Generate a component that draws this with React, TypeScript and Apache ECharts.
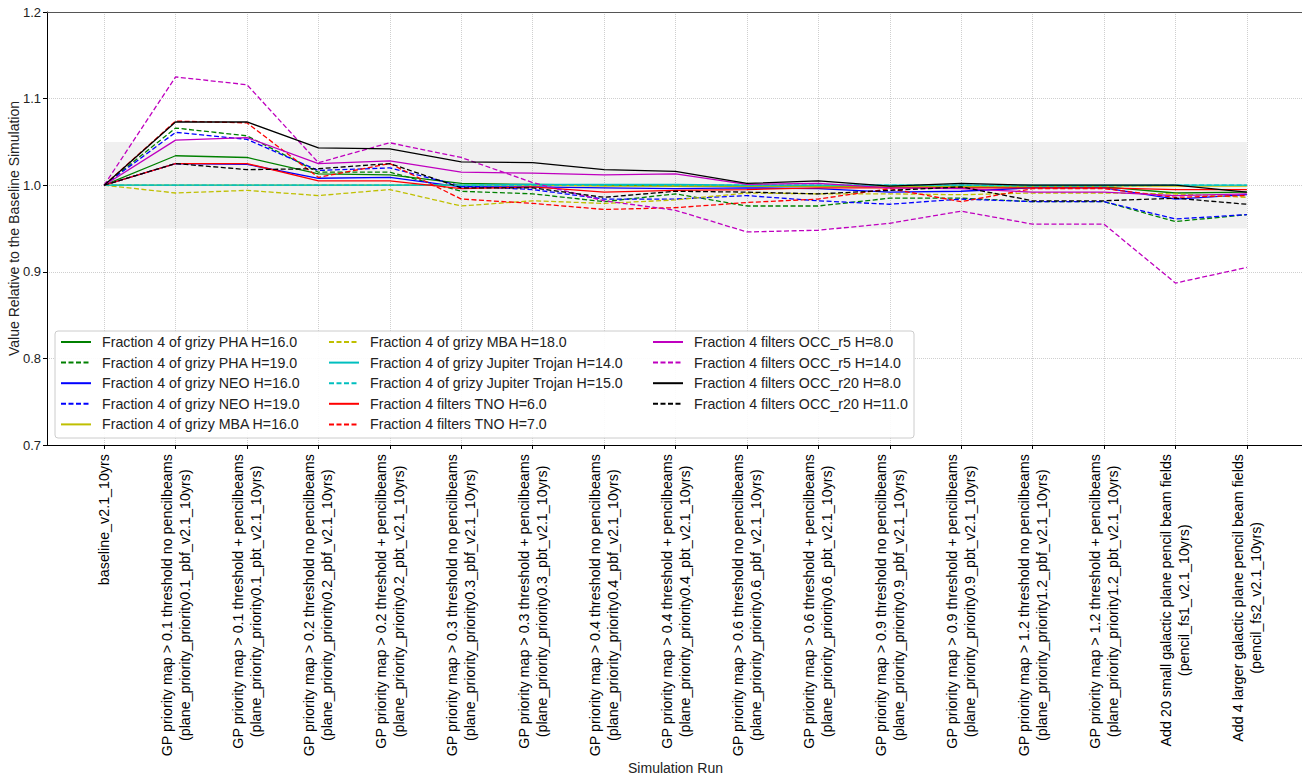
import React, { useEffect, useRef } from "react";
import * as echarts from "echarts";

const categories = [
  "baseline_v2.1_10yrs",
  "GP priority map > 0.1 threshold no pencilbeams\n(plane_priority_priority0.1_pbf_v2.1_10yrs)",
  "GP priority map > 0.1 threshold + pencilbeams\n(plane_priority_priority0.1_pbt_v2.1_10yrs)",
  "GP priority map > 0.2 threshold no pencilbeams\n(plane_priority_priority0.2_pbf_v2.1_10yrs)",
  "GP priority map > 0.2 threshold + pencilbeams\n(plane_priority_priority0.2_pbt_v2.1_10yrs)",
  "GP priority map > 0.3 threshold no pencilbeams\n(plane_priority_priority0.3_pbf_v2.1_10yrs)",
  "GP priority map > 0.3 threshold + pencilbeams\n(plane_priority_priority0.3_pbt_v2.1_10yrs)",
  "GP priority map > 0.4 threshold no pencilbeams\n(plane_priority_priority0.4_pbf_v2.1_10yrs)",
  "GP priority map > 0.4 threshold + pencilbeams\n(plane_priority_priority0.4_pbt_v2.1_10yrs)",
  "GP priority map > 0.6 threshold no pencilbeams\n(plane_priority_priority0.6_pbf_v2.1_10yrs)",
  "GP priority map > 0.6 threshold + pencilbeams\n(plane_priority_priority0.6_pbt_v2.1_10yrs)",
  "GP priority map > 0.9 threshold no pencilbeams\n(plane_priority_priority0.9_pbf_v2.1_10yrs)",
  "GP priority map > 0.9 threshold + pencilbeams\n(plane_priority_priority0.9_pbt_v2.1_10yrs)",
  "GP priority map > 1.2 threshold no pencilbeams\n(plane_priority_priority1.2_pbf_v2.1_10yrs)",
  "GP priority map > 1.2 threshold + pencilbeams\n(plane_priority_priority1.2_pbt_v2.1_10yrs)",
  "Add 20 small galactic plane pencil beam fields\n(pencil_fs1_v2.1_10yrs)",
  "Add 4 larger galactic plane pencil beam fields\n(pencil_fs2_v2.1_10yrs)",
];

const yTicks = [0.7, 0.8, 0.9, 1.0, 1.1, 1.2];

const phaH16 = [1, 1.034, 1.032, 1.013, 1.012, 1.002, 1.001, 1.0, 0.999, 0.999, 0.999, 0.998, 0.998, 0.998, 0.998, 0.991, 0.992];
const phaH19 = [1, 1.066, 1.057, 1.015, 1.015, 0.993, 0.99, 0.981, 0.99, 0.976, 0.976, 0.985, 0.985, 0.981, 0.981, 0.958, 0.966];
const neoH16 = [1, 1.025, 1.024, 1.008, 1.009, 0.998, 0.998, 0.997, 0.996, 0.997, 0.996, 0.992, 0.993, 0.997, 0.997, 0.984, 0.989];
const neoH19 = [1, 1.061, 1.053, 1.017, 1.02, 0.999, 0.995, 0.984, 0.984, 0.988, 0.982, 0.978, 0.984, 0.981, 0.981, 0.961, 0.966];
const mbaH16 = [1, 1.0, 1.0, 1.0, 1.0, 1.0, 1.0, 0.999, 0.999, 0.999, 0.999, 0.999, 0.999, 0.999, 0.999, 0.999, 0.999];
const mbaH18 = [1, 0.991, 0.994, 0.988, 0.995, 0.976, 0.982, 0.979, 0.983, 0.991, 0.99, 0.99, 0.989, 0.991, 0.991, 0.99, 0.986];
const jtH14 = [1, 1.0, 1.0, 1.0, 1.0, 1.0, 1.001, 1.001, 1.001, 1.0, 1.0, 1.0, 1.0, 1.0, 1.0, 1.0, 1.0];
const jtH15 = [1, 1.0, 1.0, 1.0, 1.0, 1.0, 1.0, 1.0, 1.0, 1.0, 1.0, 1.0, 1.0, 0.999, 0.999, 1.0, 1.0];
const tnoH6 = [1, 1.025, 1.025, 1.005, 1.005, 0.996, 0.998, 0.992, 0.994, 0.995, 0.997, 0.997, 0.997, 0.997, 0.997, 0.995, 0.995];
const tnoH7 = [1, 1.074, 1.072, 1.009, 1.025, 0.984, 0.979, 0.972, 0.974, 0.98, 0.984, 0.996, 0.981, 0.996, 0.996, 0.986, 0.988];
const occR5H8 = [1, 1.052, 1.055, 1.025, 1.028, 1.015, 1.014, 1.012, 1.013, 1.001, 1.002, 0.997, 0.996, 0.992, 0.992, 0.988, 0.99];
const occR5H14 = [1, 1.125, 1.116, 1.026, 1.049, 1.032, 1.003, 0.982, 0.971, 0.946, 0.948, 0.956, 0.97, 0.955, 0.955, 0.887, 0.905];
const occR20H8 = [1, 1.073, 1.073, 1.043, 1.042, 1.027, 1.026, 1.018, 1.016, 1.002, 1.005, 0.999, 1.002, 1.0, 1.0, 1.0, 0.992];
const occR20H11 = [1, 1.025, 1.018, 1.019, 1.025, 0.997, 0.997, 0.986, 0.993, 0.992, 0.99, 0.994, 0.998, 0.982, 0.982, 0.985, 0.978];

const seriesNames = [
  "Fraction 4 of grizy PHA H=16.0",
  "Fraction 4 of grizy PHA H=19.0",
  "Fraction 4 of grizy NEO H=16.0",
  "Fraction 4 of grizy NEO H=19.0",
  "Fraction 4 of grizy MBA H=16.0",
  "Fraction 4 of grizy MBA H=18.0",
  "Fraction 4 of grizy Jupiter Trojan H=14.0",
  "Fraction 4 of grizy Jupiter Trojan H=15.0",
  "Fraction 4 filters TNO H=6.0",
  "Fraction 4 filters TNO H=7.0",
  "Fraction 4 filters OCC_r5 H=8.0",
  "Fraction 4 filters OCC_r5 H=14.0",
  "Fraction 4 filters OCC_r20 H=8.0",
  "Fraction 4 filters OCC_r20 H=11.0",
];
const seriesValues = [phaH16, phaH19, neoH16, neoH19, mbaH16, mbaH18, jtH14, jtH15, tnoH6, tnoH7, occR5H8, occR5H14, occR20H8, occR20H11];
const seriesColors = ["#008000", "#008000", "#0000ff", "#0000ff", "#bfbf00", "#bfbf00", "#00bfbf", "#00bfbf", "#ff0000", "#ff0000", "#bf00bf", "#bf00bf", "#000000", "#000000"];
const seriesDashed = [false, true, false, true, false, true, false, true, false, true, false, true, false, true];

const bandRange = [0.95, 1.05];

const FONT = "'Liberation Sans', Arial, Helvetica, sans-serif";

export default function App() {
  const ref = useRef<HTMLDivElement>(null);
  useEffect(() => {
    if (!ref.current) return;
    const chart = echarts.init(ref.current, undefined, { renderer: "svg" });
    const last = categories.length - 1;
    const series: any[] = seriesNames.map((name, k) => ({
      name,
      type: "line",
      symbol: "none",
      showSymbol: false,
      data: seriesValues[k].map((v, i) => [i, v]),
      lineStyle: { color: seriesColors[k], width: 1.3, type: seriesDashed[k] ? [5, 2.5] : "solid" },
      itemStyle: { color: seriesColors[k] },
      z: 3,
      ...(k === 0
        ? {
            markArea: {
              silent: true,
              itemStyle: { color: "rgba(0,0,0,0.06)" },
              data: [[{ xAxis: 0, yAxis: bandRange[0] }, { xAxis: last, yAxis: bandRange[1] }]],
            },
          }
        : {}),
    }));
    const legendCols = [[0, 5], [5, 10], [10, 14]];
    const legendLefts = [60, 328, 652];
    const legends = legendCols.map(([a, b], c) => ({
      orient: "vertical",
      left: legendLefts[c],
      top: 335,
      padding: 0,
      itemWidth: 30,
      itemHeight: 14,
      itemGap: 6.6,
      z: 110,
      itemStyle: { opacity: 0 },
      data: seriesNames.slice(a, b),
      textStyle: { fontSize: 14.2, color: "#222", fontFamily: FONT, padding: [0, 0, 0, 6] },
    }));
    chart.setOption({
      animation: false,
      backgroundColor: "#ffffff",
      textStyle: { fontFamily: FONT },
      grid: { left: 47, top: 12, right: -2, bottom: 334, containLabel: false, outerBoundsMode: "none" },
      legend: legends,
      graphic: [
        {
          type: "rect",
          z: 100,
          shape: { x: 55, y: 331, width: 859, height: 107, r: 3 },
          style: { fill: "rgba(255,255,255,0.9)", stroke: "#cccccc", lineWidth: 1 },
        },
      ],
      xAxis: [
        {
          type: "value",
          min: -0.8,
          max: last + 0.8,
          splitNumber: 17,
          minInterval: 1,
          maxInterval: 1,
          name: "Simulation Run",
          nameLocation: "middle",
          nameGap: 316,
          nameMoveOverlap: false,
          nameTextStyle: { fontSize: 14, color: "#222", fontFamily: FONT },
          axisLine: { show: true, onZero: false, lineStyle: { color: "#000", width: 1 } },
          axisTick: { show: true, length: 4, lineStyle: { color: "#000" } },
          axisLabel: {
            rotate: 90,
            margin: 9,
            showMinLabel: false,
            showMaxLabel: false,
            formatter: (v: number) => {
              if (!Number.isInteger(v) || v < 0 || v > last) return "";
              return categories[v]
                .split("\n")
                .map((s) => `{c|${s}}`)
                .join("\n");
            },
            rich: { c: { align: "center", fontSize: 14.3, lineHeight: 18, color: "#000", fontFamily: FONT } },
          },
          splitLine: { show: true, lineStyle: { color: "#cfcfcf", type: "dotted", width: 1 } },
        },
        {
          type: "value",
          position: "top",
          min: -0.8,
          max: last + 0.8,
          axisLine: { show: true, onZero: false, lineStyle: { color: "#555", width: 1 } },
          axisTick: { show: false },
          axisLabel: { show: false },
          splitLine: { show: false },
        },
      ],
      yAxis: {
        type: "value",
        min: yTicks[0],
        max: yTicks[yTicks.length - 1],
        interval: 0.1,
        name: "Value Relative to the Baseline Simulation",
        nameLocation: "middle",
        nameGap: 26,
        nameMoveOverlap: false,
        nameTextStyle: { fontSize: 14, color: "#222", fontFamily: FONT },
        axisLine: { show: true, onZero: false, lineStyle: { color: "#000", width: 1 } },
        axisTick: { show: true, length: 4, lineStyle: { color: "#000" } },
        axisLabel: { fontSize: 13, color: "#222", margin: 6, formatter: (v: number) => v.toFixed(1) },
        splitLine: { show: true, lineStyle: { color: "#cfcfcf", type: "dotted", width: 1 } },
      },
      series,
    });
    return () => chart.dispose();
  }, []);
  return (
    <div
      ref={ref}
      style={{ position: "absolute", left: 0, top: 0, width: 1302, height: 779, background: "#fff" }}
    />
  );
}
